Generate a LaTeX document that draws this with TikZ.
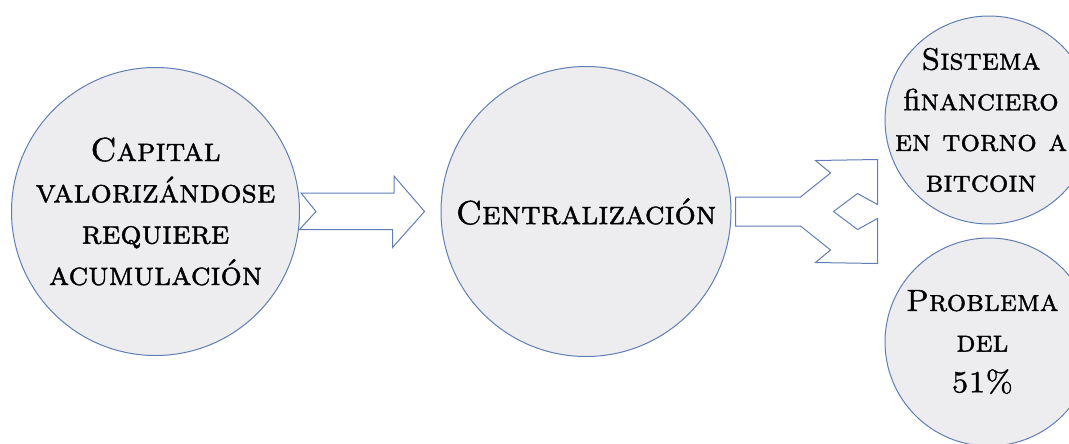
\documentclass[tikz,border=0pt]{standalone}
\usepackage{fontspec}
\newfontfamily\capsfont{lmromancaps10-regular.otf}[FakeBold=1.2]
\newfontfamily\romfont{lmroman10-regular.otf}[FakeBold=1.2]
\usetikzlibrary{calc}

\definecolor{edgeblue}{RGB}{96,126,180}
\definecolor{bubblegray}{RGB}{237,237,239}

\tikzset{
    bubble/.style={circle, draw=edgeblue, fill=bubblegray, line width=0.75pt, inner sep=0pt},
    words/.style={align=center, inner sep=0pt, font=\fontsize{25}{31}\capsfont},
    smallwords/.style={words, font=\fontsize{23}{30.5}\capsfont},
    hollow/.style={draw=edgeblue, fill=white, line width=0.75pt, line join=miter},
}

\begin{document}
\begin{tikzpicture}[x=0.75pt,y=-0.75pt]
    \useasboundingbox (0,0) rectangle (1069,443);
    \clip (0,0) rectangle (1069,443);
    \node[bubble, minimum size=216pt, label={[words]center:Capital\\ valorizándose\\ requiere\\ acumulación}] (capital) at (155.5,211.5) {};
    \node[bubble, minimum size=217.5pt, label={[words]center:Centralización}] (central) at (586,211.5) {};
    \node[bubble, minimum size=156pt, label={[smallwords, xshift=-6pt]center:Sistema\\ {\romfont fi}nanciero\\ en torno a\\ bitcoin}] (sistema) at (989,120) {};
    \node[bubble, minimum size=156pt, label={[smallwords, xshift=-5pt]center:Problema\\ del\\ 51\%}] (problema) at (989,342) {};
    % notched arrow
    \draw[hollow] ($(capital.east)+(1,-18.5)$) -- ++(93,0) -- ++(0,-17) -- ($(central.west)+(-16,0)$) -- ++(-32,36) -- ++(0,-18) -- ++(-93,0) -- ($(capital.east)+(16,0)$) -- cycle;
    % fork
    \begin{scope}[shift={(central.east)}]
        \draw[hollow] (4,-14.5) -- (69,-14.5) -- (99,-38.5) -- (84,-51) -- (146,-52) -- (146,-7) -- (126,-18) -- (102,0) -- (126,18) -- (146,7) -- (146,52) -- (84,51) -- (99,38.5) -- (69,14.5) -- (4,14.5) -- cycle;
    \end{scope}
\end{tikzpicture}
\end{document}
